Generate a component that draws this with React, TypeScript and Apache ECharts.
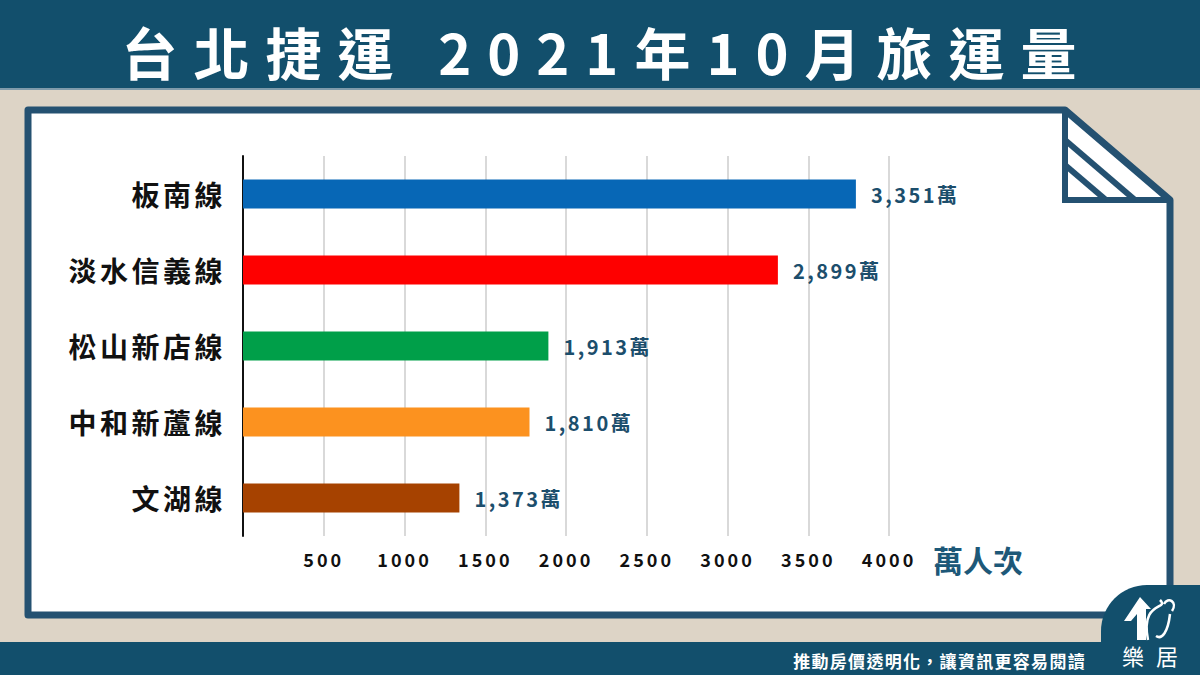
import React, { useEffect, useRef } from 'react';
import * as echarts from 'echarts';

// ---- data ----
const TITLE = '台北捷運 2021年10月旅運量';
const lines = ['板南線', '淡水信義線', '松山新店線', '中和新蘆線', '文湖線'];
// ridership as labelled (萬人次)
const ridership = [3351, 2899, 1913, 1810, 1373];
// bar lengths as actually drawn against the axis in the picture
const drawnLength = [3795, 3312, 1891, 1774, 1340];
const barColors = ['#0767b6', '#fe0000', '#009f49', '#fc921f', '#a64200'];
const xMin = 0;
const xMax = 4000;
const xInterval = 500;
const unitLabel = '萬人次';
const slogan = '推動房價透明化，讓資訊更容易閱讀';
const brand = '樂居';

const FONT = '"Noto Sans CJK TC", "Noto Sans CJK SC", sans-serif';
const TEAL = '#124f6c';
const BORDER = '#245171';
const BEIGE = '#ddd4c6';
const LABEL_TEAL = '#1c4e6c';

const css = `
body{margin:0}
#chart text[style*="56px"]{letter-spacing:16px}
#chart text[style*="28px"]{letter-spacing:3.5px}
#chart text[style*="20px"]{letter-spacing:2.5px}
#chart text[style*="18px"]{letter-spacing:3px}
#chart text[style*="17px"]{letter-spacing:1.3px}
#chart text[style*="22px"]{letter-spacing:12px}
`;

export default function App() {
  const ref = useRef<HTMLDivElement>(null);

  useEffect(() => {
    if (!ref.current) return;
    const chart = echarts.init(ref.current, undefined, { renderer: 'svg' });

    const option: any = {
      animation: false,
      backgroundColor: BEIGE,
      grid: { left: 243, right: 311, top: 156, bottom: 139, containLabel: false },
      xAxis: {
        type: 'value',
        min: xMin,
        max: xMax,
        interval: xInterval,
        axisLine: { show: false },
        axisTick: { show: false },
        splitLine: { show: true, lineStyle: { color: '#d9d9d9', width: 2 } },
        axisLabel: {
          margin: 14,
          color: '#111',
          fontSize: 18,
          fontWeight: 'bold',
          fontFamily: FONT,
          formatter: (v: number) => (v === 0 ? '' : String(v)),
        },
      },
      yAxis: {
        type: 'category',
        inverse: true,
        data: lines,
        axisLine: { show: true, lineStyle: { color: '#111', width: 2 } },
        axisTick: { show: false },
        splitLine: { show: false },
        axisLabel: {
          margin: 17,
          color: '#111',
          fontSize: 28,
          fontWeight: 'bold',
          fontFamily: FONT,
        },
      },
      series: [
        {
          type: 'bar',
          barWidth: 29,
          data: drawnLength.map((v, i) => ({ value: v, itemStyle: { color: barColors[i] } })),
          label: {
            show: true,
            position: 'right',
            distance: 15,
            color: LABEL_TEAL,
            fontSize: 20,
            fontWeight: 'bold',
            fontFamily: FONT,
            formatter: (p: any) => ridership[p.dataIndex].toLocaleString('en-US') + '萬',
          },
        },
      ],
      graphic: [
        // top band
        { type: 'rect', z: -10, shape: { x: 0, y: 0, width: 1200, height: 88 }, style: { fill: TEAL } },
        { type: 'line', z: -9, shape: { x1: 0, y1: 89, x2: 1200, y2: 89 }, style: { stroke: '#7f9bab', lineWidth: 2 } },
        {
          type: 'text', z: 5, x: 607, y: 50,
          style: {
            text: TITLE, fill: '#ffffff', fontSize: 56, fontWeight: 'bold', fontFamily: FONT,
            textAlign: 'center', textVerticalAlign: 'middle',
          },
        },
        // card
        {
          type: 'polygon', z: -8,
          shape: { points: [[28, 110], [1065, 110], [1170, 200], [1170, 615], [28, 615]] },
          style: { fill: '#ffffff', stroke: BORDER, lineWidth: 7, lineJoin: 'round' },
        },
        // folded corner
        {
          type: 'polyline', z: -7,
          shape: { points: [[1065, 110], [1065, 200], [1170, 200]] },
          style: { stroke: BORDER, lineWidth: 6, fill: null },
        },
        { type: 'line', z: -7, shape: { x1: 1065, y1: 140, x2: 1135, y2: 200 }, style: { stroke: BORDER, lineWidth: 6 } },
        { type: 'line', z: -7, shape: { x1: 1065, y1: 165, x2: 1106, y2: 200 }, style: { stroke: BORDER, lineWidth: 6 } },
        // unit label of the value axis
        {
          type: 'text', z: 5, x: 933, y: 559,
          style: {
            text: unitLabel, fill: '#1d5878', fontSize: 30, fontWeight: 'bold', fontFamily: FONT,
            textAlign: 'left', textVerticalAlign: 'middle',
          },
        },
        // bottom band
        { type: 'rect', z: -6, shape: { x: 0, y: 642, width: 1200, height: 33 }, style: { fill: TEAL } },
        {
          type: 'text', z: 5, x: 1086, y: 660,
          style: {
            text: slogan, fill: '#ffffff', fontSize: 17, fontWeight: 'bold', fontFamily: FONT,
            textAlign: 'right', textVerticalAlign: 'middle',
          },
        },
        // logo block
        { type: 'rect', z: -5, shape: { x: 1101, y: 585, width: 99, height: 90, r: [46, 0, 0, 0] }, style: { fill: TEAL } },
        {
          type: 'polygon', z: 5,
          shape: { points: [[1124, 621], [1140, 597], [1151, 609], [1146, 609], [1146, 640], [1137, 640], [1137, 614], [1131, 621]] },
          style: { fill: '#ffffff' },
        },
        {
          type: 'bezierCurve', z: 5,
          shape: { x1: 1148, y1: 640, x2: 1160, y2: 600, cpx1: 1140, cpy1: 600, cpx2: 1170, cpy2: 610 },
          style: { stroke: '#ffffff', lineWidth: 2.5, fill: null },
        },
        {
          type: 'bezierCurve', z: 5,
          shape: { x1: 1170, y1: 614, x2: 1156, y2: 636, cpx1: 1168, cpy1: 632, cpx2: 1162, cpy2: 640 },
          style: { stroke: '#ffffff', lineWidth: 2.5, fill: null },
        },
        {
          type: 'bezierCurve', z: 5,
          shape: { x1: 1164, y1: 604, x2: 1172, y2: 611, cpx1: 1168, cpy1: 596, cpx2: 1178, cpy2: 602 },
          style: { stroke: '#ffffff', lineWidth: 2.5, fill: null },
        },
        {
          type: 'text', z: 5, x: 1156, y: 655,
          style: {
            text: brand, fill: '#ffffff', fontSize: 22, fontFamily: FONT,
            textAlign: 'center', textVerticalAlign: 'middle',
          },
        },
      ],
    };

    chart.setOption(option);
    return () => chart.dispose();
  }, []);

  return (
    <>
      <style>{css}</style>
      <div id="chart" ref={ref} style={{ width: 1200, height: 675 }} />
    </>
  );
}
